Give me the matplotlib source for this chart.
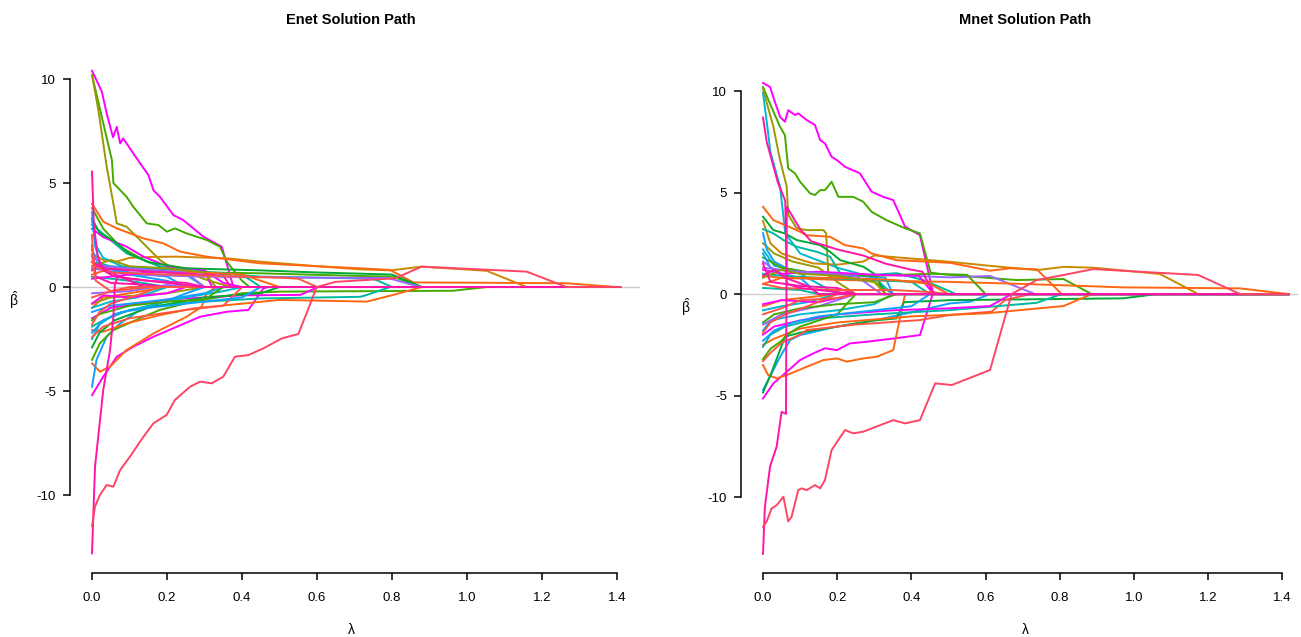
import numpy as np
import matplotlib.pyplot as plt

plt.rcParams["font.family"] = ["Liberation Sans", "DejaVu Sans"]
plt.rcParams["axes.unicode_minus"] = False
plt.rcParams["mathtext.fontset"] = "custom"
plt.rcParams["mathtext.rm"] = "Liberation Sans"

# Farben der Pfade (ungefaehr wie im Original)
farben = {
    "mag": "#FF00FF", "pink": "#FF14A8", "pinkred": "#FF4466", "red": "#FF5544",
    "orange": "#FF6611", "gold": "#CC8800", "olive": "#999900", "green": "#44AA00",
    "green2": "#00AA33", "teal": "#00B8A0", "cyan": "#00B8D0", "blue": "#11A0FF",
    "purple": "#9966FF",
}

x_ticks = [0.0, 0.2, 0.4, 0.6, 0.8, 1.0, 1.2, 1.4]
y_ticks = [-10, -5, 0, 5, 10]

enet_lambda_max = 1.41
mnet_lambda_max = 1.416

#------------------------------------------------------------------------------------------------------------#
# Enet Pfade: (farbe, [(lambda, beta), ...]) -> danach bleibt beta = 0 bis lambda_max
enet_paths = [
    ("mag", [(0, 10.4), (0.026, 9.4), (0.039, 8.35), (0.056, 7.2), (0.066, 7.7), (0.075, 6.9), (0.083, 7.15),
             (0.128, 5.95), (0.15, 5.4), (0.164, 4.65), (0.181, 4.34), (0.217, 3.46), (0.243, 3.22),
             (0.297, 2.42), (0.346, 1.94), (0.377, 0)]),
    ("green", [(0, 10.2), (0.03, 7.87), (0.053, 6.1), (0.057, 5.0), (0.092, 4.34), (0.11, 3.86), (0.146, 3.06),
               (0.177, 2.98), (0.2, 2.66), (0.221, 2.82), (0.252, 2.58), (0.306, 2.26), (0.341, 1.94),
               (0.36, 1.2), (0.4, 0.3), (0.42, 0)]),
    ("olive", [(0, 10.2), (0.017, 8.5), (0.039, 5.8), (0.057, 4.0), (0.066, 3.06), (0.092, 2.9), (0.128, 2.26),
               (0.163, 1.62), (0.181, 1.3), (0.208, 0.98), (0.306, 0.34), (0.37, 0)]),
    ("gold", [(0, 1.6), (0.03, 1.3), (0.06, 1.2), (0.1, 1.4), (0.163, 1.45), (0.226, 1.46), (0.36, 1.38),
              (0.448, 1.22), (0.6, 1.0), (0.715, 0.85), (0.795, 0.8), (0.879, 0.98), (1.052, 0.78), (1.159, 0)]),
    ("orange", [(0, 4.0), (0.03, 3.14), (0.066, 2.82), (0.137, 2.34), (0.19, 2.1), (0.235, 1.7), (0.306, 1.46),
                (0.377, 1.3), (0.448, 1.14), (0.6, 1.0), (0.715, 0.9), (0.795, 0.82), (0.857, 0.22),
                (1.0, 0.21), (1.265, 0.18), (1.40, 0)]),
    ("green", [(0, 3.8), (0.03, 2.8), (0.075, 1.94), (0.137, 1.3), (0.208, 0.82), (0.3, 0.7), (0.448, 0.66),
               (0.715, 0.53), (0.803, 0.5), (0.875, 0)]),
    ("teal", [(0, 3.0), (0.039, 2.42), (0.092, 1.62), (0.181, 0.98), (0.3, 0.7), (0.45, 0.5), (0.6, 0.45),
              (0.75, 0.4), (0.8, 0)]),
    ("mag", [(0, 2.8), (0.03, 2.4), (0.092, 1.94), (0.137, 1.46), (0.2, 1.0), (0.3, 0.8), (0.35, 0.2), (0.4, 0)]),
    ("green2", [(0, 3.3), (0.02, 2.6), (0.06, 2.2), (0.1, 1.6), (0.15, 1.2), (0.25, 0.9), (0.35, 0.85),
                (0.45, 0.8), (0.6, 0.7), (0.8, 0.6), (0.88, 0)]),
    ("cyan", [(0, 3.2), (0.01, 2.0), (0.03, 1.4), (0.08, 1.0), (0.15, 0.8), (0.25, 0.6), (0.3, 0)]),
    ("blue", [(0, 3.6), (0.008, 2.0), (0.02, 1.2), (0.05, 0.9), (0.1, 0.7), (0.2, 0.5), (0.25, 0)]),
    ("purple", [(0, 0.9), (0.1, 0.6), (0.3, 0.5), (0.6, 0.45), (0.79, 0.43), (0.875, 0)]),
    ("blue", [(0, 1.8), (0.02, 1.0), (0.1, 0.6), (0.2, 0.3), (0.25, 0)]),
    ("teal", [(0, 0.5), (0.1, 0.3), (0.2, 0)]),
    ("purple", [(0, -0.3), (0.1, -0.2), (0.2, 0.1), (0.25, 0)]),
    ("mag", [(0, 0.4), (0.1, 0.6), (0.2, 0.8), (0.3, 0.8), (0.32, 0)]),
    ("orange", [(0, -1.0), (0.03, -0.5), (0.1, -0.3), (0.2, 0)]),
    ("olive", [(0, -0.8), (0.05, -0.5), (0.2, -0.3), (0.3, 0)]),
    ("teal", [(0, 1.2), (0.05, 1.0), (0.15, 0.9), (0.25, 0.8), (0.4, 0.6), (0.45, 0)]),
    ("orange", [(0, 0.6), (0.05, 0.9), (0.15, 0.8), (0.3, 0.7), (0.4, 0.6), (0.5, 0)]),
    ("purple", [(0, 1.5), (0.03, 1.0), (0.1, 0.9), (0.25, 0.7), (0.3, 0)]),
    ("olive", [(0, 1.0), (0.05, 1.3), (0.1, 1.0), (0.2, 0.9), (0.3, 0.7), (0.33, 0)]),
    # untere Pfade
    ("mag", [(0, -5.2), (0.03, -4.31), (0.066, -3.35), (0.11, -2.87), (0.164, -2.39), (0.226, -1.91),
             (0.288, -1.43), (0.359, -1.19), (0.417, -1.1), (0.457, -0.06), (0.47, 0)]),
    ("orange", [(0, -3.67), (0.021, -4.07), (0.048, -3.83), (0.092, -3.03), (0.164, -2.23), (0.252, -1.43),
                (0.292, -0.95), (0.306, -0.3), (0.33, 0)]),
    ("blue", [(0, -4.79), (0.012, -3.5), (0.039, -2.39), (0.075, -1.75), (0.128, -1.1), (0.181, -0.78),
              (0.252, -0.3), (0.3, 0)]),
    ("green", [(0, -3.5), (0.021, -2.7), (0.057, -2.07), (0.137, -1.43), (0.181, -1.1), (0.27, -0.7),
               (0.4, -0.3), (0.5, -0.22), (0.963, -0.18), (1.052, 0)]),
    ("orange", [(0, -2.07), (0.03, -2.15), (0.092, -1.75), (0.181, -1.35), (0.27, -1.03), (0.4, -0.8),
                (0.5, -0.62), (0.733, -0.7), (0.803, -0.38), (0.879, 0)]),
    ("teal", [(0, -1.9), (0.03, -1.6), (0.1, -1.1), (0.226, -0.78), (0.448, -0.55), (0.715, -0.47),
              (0.733, -0.38), (0.795, 0)]),
    ("mag", [(0, -1.5), (0.05, -1.0), (0.2, -0.6), (0.4, -0.4), (0.555, -0.38), (0.603, 0)]),
    ("cyan", [(0, -2.5), (0.02, -1.8), (0.06, -1.3), (0.15, -0.9), (0.25, -0.5), (0.35, -0.2), (0.4, 0)]),
    ("blue", [(0, -1.2), (0.05, -0.9), (0.2, -0.6), (0.3, -0.3), (0.35, 0)]),
    ("green2", [(0, -2.9), (0.02, -2.2), (0.06, -1.6), (0.15, -1.0), (0.3, -0.5), (0.45, -0.3), (0.5, 0)]),
    ("red", [(0, -2.4), (0.03, -1.9), (0.1, -1.5), (0.25, -1.1), (0.35, -0.9), (0.4, 0)]),
    ("green", [(0, -1.6), (0.02, -1.3), (0.1, -0.9), (0.2, -0.7), (0.3, -0.6), (0.35, 0)]),
    ("cyan", [(0, -1.0), (0.05, -0.7), (0.12, -0.5), (0.2, 0)]),
    ("blue", [(0, -2.2), (0.03, -1.6), (0.08, -1.2), (0.15, -1.0), (0.25, -0.8), (0.4, -0.5), (0.45, 0)]),
    ("mag", [(0, -0.8), (0.03, -0.4), (0.1, -0.5), (0.2, -0.3), (0.25, 0)]),
    ("red", [(0, -1.8), (0.02, -1.2), (0.05, -0.8), (0.12, -0.4), (0.18, 0)]),
    ("pink", [(0, 0.8), (0.02, 1.1), (0.05, 0.7), (0.1, 0.3), (0.14, 0)]),
    ("pink", [(0, 2.0), (0.01, 0.5), (0.05, 0.2), (0.15, 0.1), (0.2, 0)]),
    ("pink", [(0, 1.2), (0.03, 0.9), (0.1, 0.8), (0.2, 0.7), (0.3, 0.6), (0.35, 0.55), (0.37, 0)]),
    ("red", [(0, 2.5), (0.005, 1.0), (0.05, 0.7), (0.2, 0.6), (0.4, 0.5), (0.5, 0.45), (0.55, 0.4), (0.6, 0)]),
    ("red", [(0, -0.5), (0.05, -0.2), (0.1, 0)]),
    ("red", [(0, 1.5), (0.01, 0.3), (0.05, -0.2), (0.1, -0.1), (0.15, 0)]),
    ("pink", [(0, -12.8), (0.008, -8.64), (0.03, -4.95), (0.048, -3.03), (0.057, -1.43), (0.061, 0.18),
              (0.07, 0.5), (0.1, 0.4), (0.2, 0.2), (0.3, 0)]),
    ("pink", [(0, 5.55), (0.005, 3.0), (0.015, 1.5), (0.03, 0.8), (0.06, 0.5), (0.15, 0.3), (0.25, 0.2), (0.3, 0)]),
    ("pinkred", [(0, -11.5), (0.008, -10.56), (0.021, -10.0), (0.039, -9.52), (0.057, -9.6), (0.075, -8.8),
                 (0.101, -8.16), (0.137, -7.2), (0.164, -6.55), (0.199, -6.15), (0.221, -5.43), (0.261, -4.8),
                 (0.288, -4.55), (0.319, -4.63), (0.35, -4.31), (0.381, -3.35), (0.417, -3.27), (0.457, -2.95),
                 (0.506, -2.47), (0.55, -2.26), (0.572, -1.27), (0.599, 0), (0.65, 0.25), (0.808, 0.42),
                 (0.879, 0.98), (1.159, 0.74), (1.265, 0)]),
]

#------------------------------------------------------------------------------------------------------------#
# Mnet Pfade
mnet_paths = [
    ("mag", [(0, 10.4), (0.019, 10.2), (0.032, 9.47), (0.046, 8.73), (0.059, 8.49), (0.068, 9.06), (0.086, 8.82),
             (0.095, 8.9), (0.118, 8.57), (0.14, 8.33), (0.154, 7.59), (0.167, 7.42), (0.185, 6.76), (0.199, 6.6),
             (0.221, 6.27), (0.261, 5.95), (0.293, 5.04), (0.324, 4.79), (0.351, 4.63), (0.383, 3.32),
             (0.423, 2.9), (0.459, 0)]),
    ("green", [(0, 10.2), (0.023, 9.2), (0.046, 8.24), (0.059, 7.83), (0.068, 6.19), (0.086, 5.95), (0.1, 5.53),
               (0.127, 4.96), (0.14, 4.88), (0.154, 5.12), (0.167, 5.12), (0.185, 5.53), (0.203, 4.79),
               (0.243, 4.79), (0.27, 4.55), (0.293, 4.05), (0.333, 3.64), (0.383, 3.24), (0.423, 2.99),
               (0.452, 1.05), (0.504, 0.94), (0.684, 0.69), (0.81, 0.74), (0.886, 0)]),
    ("olive", [(0, 10.1), (0.028, 8.24), (0.046, 6.6), (0.064, 5.29), (0.068, 3.9), (0.091, 3.24), (0.118, 3.15),
               (0.163, 3.15), (0.17, 3.0), (0.176, 1.02), (0.2, 0.8), (0.3, 0.6), (0.35, 0)]),
    ("cyan", [(0, 9.9), (0.01, 8.5), (0.02, 7.0), (0.035, 6.0), (0.046, 5.29), (0.06, 3.0), (0.1, 2.0),
              (0.2, 1.3), (0.3, 0.8), (0.35, 0)]),
    ("gold", [(0, 3.6), (0.02, 2.5), (0.05, 2.0), (0.1, 1.7), (0.135, 1.51), (0.2, 1.45), (0.27, 1.6),
              (0.3, 1.9), (0.4, 1.75), (0.504, 1.59), (0.612, 1.39), (0.738, 1.18), (0.81, 1.34), (0.89, 1.3),
              (1.07, 0.99), (1.173, 0)]),
    ("orange", [(0, 4.3), (0.028, 3.64), (0.091, 3.15), (0.118, 2.9), (0.181, 2.82), (0.221, 2.41), (0.27, 2.25),
                (0.293, 2.0), (0.36, 1.67), (0.504, 1.54), (0.612, 1.15), (0.666, 1.27), (0.738, 1.22), (0.805, 0)]),
    ("green2", [(0, 3.81), (0.028, 3.15), (0.059, 2.99), (0.091, 2.66), (0.154, 2.41), (0.181, 2.08),
                (0.208, 1.67), (0.27, 1.35), (0.3, 1.0), (0.33, 0)]),
    ("teal", [(0, 3.2), (0.028, 2.99), (0.055, 2.66), (0.091, 2.33), (0.145, 2.08), (0.181, 1.84), (0.208, 1.02),
              (0.234, 0.86), (0.36, 1.03), (0.432, 0.69), (0.495, 0.2), (0.52, 0)]),
    ("olive", [(0, 2.5), (0.03, 2.0), (0.08, 1.6), (0.15, 1.3), (0.2, 0.6), (0.25, 0)]),
    ("blue", [(0, 3.0), (0.01, 2.2), (0.03, 1.6), (0.07, 1.2), (0.15, 1.0), (0.25, 0.9), (0.33, 0.8), (0.35, 0)]),
    ("cyan", [(0, 2.2), (0.03, 1.4), (0.08, 1.2), (0.17, 0.3), (0.2, 0)]),
    ("purple", [(0, 1.3), (0.05, 1.2), (0.1, 1.0), (0.2, 1.0), (0.3, 0.95), (0.4, 0.9), (0.504, 0.82),
                (0.612, 0.89), (0.733, 0)]),
    ("orange", [(0, 0.9), (0.05, 0.8), (0.2, 0.7), (0.35, 0.65), (0.504, 0.6), (0.7, 0.5), (0.971, 0.33),
                (1.286, 0.28), (1.416, 0)]),
    ("green", [(0, 1.8), (0.05, 1.3), (0.15, 1.0), (0.3, 0.9), (0.45, 1.0), (0.55, 0.95), (0.6, 0)]),
    ("blue", [(0, 2.0), (0.02, 1.3), (0.05, 1.0), (0.1, 0.8), (0.15, 0)]),
    ("mag", [(0, 1.2), (0.05, 1.0), (0.15, 1.1), (0.3, 0.95), (0.42, 0.9), (0.46, 0)]),
    ("teal", [(0, 0.3), (0.1, 0.2), (0.15, 0)]),
    ("orange", [(0, -0.6), (0.05, -0.3), (0.15, -0.1), (0.2, 0)]),
    ("teal", [(0, 1.0), (0.05, 0.9), (0.15, 0.8), (0.3, 0.7), (0.4, 0.6), (0.45, 0)]),
    ("orange", [(0, 0.5), (0.05, 0.8), (0.2, 0.8), (0.35, 0.7), (0.45, 0.5), (0.5, 0)]),
    ("purple", [(0, 1.6), (0.03, 1.2), (0.1, 1.1), (0.25, 0.9), (0.32, 0)]),
    ("olive", [(0, 0.8), (0.05, 1.2), (0.1, 1.0), (0.2, 0.9), (0.3, 0.6), (0.33, 0)]),
    # untere Pfade
    ("mag", [(0, -5.14), (0.028, -4.4), (0.059, -3.91), (0.1, -3.25), (0.136, -2.92), (0.167, -2.67),
             (0.199, -2.76), (0.234, -2.43), (0.279, -2.35), (0.356, -2.18), (0.423, -2.02), (0.459, 0.1),
             (0.47, 0)]),
    ("orange", [(0, -3.5), (0.014, -3.99), (0.037, -4.15), (0.064, -3.99), (0.118, -3.58), (0.163, -3.25),
                (0.199, -3.17), (0.226, -3.33), (0.27, -3.17), (0.306, -3.09), (0.351, -2.76), (0.383, 0)]),
    ("blue", [(0, -4.73), (0.023, -3.91), (0.046, -3.09), (0.073, -2.27), (0.1, -2.02), (0.2, -1.6),
              (0.3, -1.3), (0.4, -0.9), (0.504, -0.46), (0.558, -0.38), (0.612, 0)]),
    ("green2", [(0, -4.85), (0.02, -4.0), (0.046, -2.75), (0.059, -2.1), (0.1, -1.9), (0.2, -1.6), (0.3, -1.3),
                (0.36, -1.2), (0.38, -0.4), (0.504, -0.3), (0.971, -0.21), (1.061, 0)]),
    ("red", [(0, -3.3), (0.02, -2.9), (0.05, -2.4), (0.1, -2.0), (0.118, -1.77), (0.25, -1.5), (0.423, -1.28),
             (0.504, -1.03), (0.616, -0.87), (0.652, -0.3), (0.72, 0)]),
    ("orange", [(0, -2.5), (0.03, -2.2), (0.1, -1.7), (0.2, -1.4), (0.4, -1.1), (0.6, -0.95), (0.81, -0.59),
                (0.886, 0)]),
    ("teal", [(0, -2.6), (0.02, -2.0), (0.06, -1.6), (0.15, -1.2), (0.3, -1.0), (0.504, -0.79), (0.738, -0.43),
              (0.805, 0)]),
    ("mag", [(0, -2.0), (0.03, -1.6), (0.1, -1.3), (0.2, -1.0), (0.35, -0.8), (0.504, -0.7), (0.612, -0.59),
             (0.67, 0)]),
    ("cyan", [(0, -1.8), (0.02, -1.3), (0.1, -1.0), (0.2, -0.8), (0.3, -0.5), (0.35, 0)]),
    ("purple", [(0, -1.5), (0.05, -1.0), (0.15, -0.6), (0.2, -0.3), (0.25, 0)]),
    ("green", [(0, -3.2), (0.02, -2.7), (0.05, -2.3), (0.065, -2.0), (0.1, -1.6), (0.15, -1.3), (0.2, -1.0),
               (0.25, 0)]),
    ("green", [(0, -1.4), (0.03, -1.0), (0.1, -0.7), (0.2, -0.5), (0.3, -0.4), (0.36, 0)]),
    ("cyan", [(0, -0.8), (0.05, -0.6), (0.12, -0.4), (0.2, 0)]),
    ("blue", [(0, -2.3), (0.03, -1.8), (0.08, -1.4), (0.15, -1.1), (0.25, -0.9), (0.4, -0.6), (0.45, 0)]),
    ("mag", [(0, -0.5), (0.05, -0.3), (0.15, -0.4), (0.25, 0)]),
    ("red", [(0, -1.9), (0.02, -1.4), (0.06, -1.0), (0.12, -0.6), (0.2, 0)]),
    ("pink", [(0, 0.9), (0.03, 1.2), (0.06, 0.8), (0.12, 0.4), (0.15, 0)]),
    ("pink", [(0, 1.5), (0.02, 0.6), (0.1, 0.4), (0.2, 0.3), (0.25, 0)]),
    ("red", [(0, 0.5), (0.05, 0.3), (0.2, 0.2), (0.35, 0.2), (0.45, 0.1), (0.5, 0)]),
    ("red", [(0, -1.0), (0.05, -0.7), (0.1, -0.3), (0.2, -0.2), (0.25, 0)]),
    ("pink", [(0, 8.7), (0.01, 7.5), (0.025, 6.5), (0.04, 5.5), (0.06, 4.6), (0.064, 0.5), (0.1, 0.3),
              (0.2, 0.1), (0.25, 0)]),
    ("pink", [(0, -12.8), (0.005, -10.5), (0.019, -8.5), (0.037, -7.5), (0.05, -5.8), (0.062, -5.9),
              (0.064, 4.3), (0.1, 3.2), (0.13, 2.6), (0.2, 2.2), (0.27, 1.9), (0.33, 1.5), (0.4, 1.2),
              (0.43, 1.1), (0.46, 0)]),
    ("pinkred", [(0, -11.46), (0.01, -11.2), (0.023, -10.56), (0.037, -10.4), (0.055, -9.98), (0.068, -11.2),
                 (0.077, -10.97), (0.095, -9.66), (0.104, -9.57), (0.118, -9.66), (0.14, -9.41), (0.154, -9.57),
                 (0.167, -9.16), (0.185, -7.68), (0.221, -6.7), (0.243, -6.86), (0.27, -6.78), (0.351, -6.21),
                 (0.383, -6.37), (0.423, -6.21), (0.464, -4.4), (0.509, -4.48), (0.612, -3.74), (0.67, 0),
                 (0.738, 0.69), (0.81, 0.94), (0.89, 1.23), (1.173, 0.94), (1.286, 0)]),
]


def zeichne(ax, paths, lam_max, titel, titel_x):
    ax.axhline(0, color="#CCCCCC", lw=1, zorder=1)
    for farbe, pts in paths:
        lam = [p[0] for p in pts]
        beta = [p[1] for p in pts]
        # nach dem Nullwerden bleibt der Koeffizient bei 0
        if lam[-1] < lam_max:
            lam.append(lam_max)
            beta.append(0)
        ax.plot(lam, beta, color=farben[farbe], lw=1.4, solid_joinstyle="round", zorder=2)
    for s in ("top", "right"):
        ax.spines[s].set_visible(False)
    ax.spines["left"].set_bounds(-10, 10)
    ax.spines["bottom"].set_bounds(0, 1.4)
    ax.spines["left"].set_linewidth(1.1)
    ax.spines["bottom"].set_linewidth(1.1)
    ax.set_xticks(x_ticks)
    ax.set_xticklabels(["%.1f" % v for v in x_ticks])
    ax.set_yticks(y_ticks)
    ax.set_yticklabels([str(v) for v in y_ticks])
    ax.tick_params(axis="both", direction="out", length=5, width=1.1, labelsize=9.5)
    ax.tick_params(axis="x", pad=9)
    ax.tick_params(axis="y", pad=5)
    fig.text(titel_x / 1301, 1 - 20 / 637, titel, ha="center", va="center", fontsize=10.5, fontweight="bold")
    fig.text(titel_x / 1301, 1 - 630 / 637, "λ", ha="center", va="center", fontsize=10)


fig = plt.figure(figsize=(13.01, 6.37), dpi=100)
ax = fig.add_axes([70 / 1301, 64 / 637, 570 / 1301, 521 / 637])
bx = fig.add_axes([741 / 1301, 64 / 637, 557 / 1301, 513 / 637])

zeichne(ax, enet_paths, enet_lambda_max, "Enet Solution Path", 351)
ax.set_xlim(-0.0587, 1.461)
ax.set_ylim(-13.75, 11.3)

zeichne(bx, mnet_paths, mnet_lambda_max, "Mnet Solution Path", 1025)
bx.set_xlim(-0.0593, 1.442)
bx.set_ylim(-13.74, 11.53)

fig.text(14 / 1301, 1 - 300 / 637, r"$\hat{\mathrm{\beta}}$", ha="center", va="center", fontsize=10)
fig.text(686 / 1301, 1 - 307 / 637, r"$\hat{\mathrm{\beta}}$", ha="center", va="center", fontsize=10)

fig.savefig("out.png", dpi=100)
